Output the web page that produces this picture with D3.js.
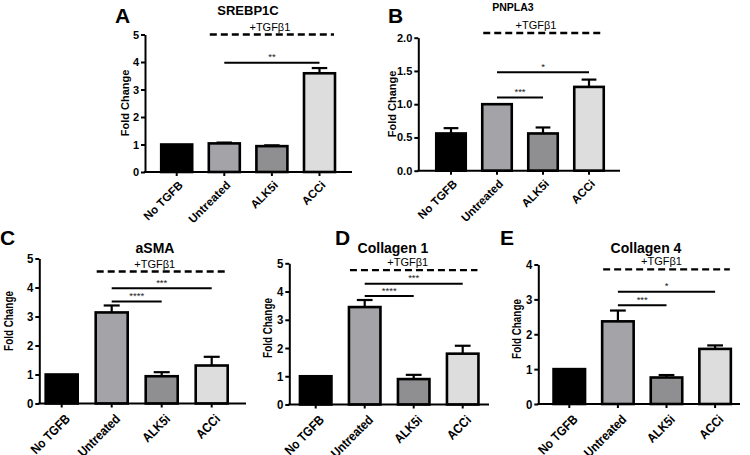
<!DOCTYPE html>
<html><head><meta charset="utf-8">
<script src="https://cdn.jsdelivr.net/npm/d3@7"></script>
<style>body{margin:0;background:#fff} svg{display:block}</style>
</head><body><svg id="c" width="750" height="455"></svg>
<script>
// ---------- data ----------
const categories = ["No TGFB", "Untreated", "ALK5i", "ACCi"];
const panelTitles = ["SREBP1C", "PNPLA3", "aSMA", "Collagen 1", "Collagen 4"];
const panelLetters = ["A", "B", "C", "D", "E"];
const treatmentLabel = "+TGFβ1";
const yAxisLabel = "Fold Change";

const srebp1cMean = [1.00, 1.04, 0.94, 3.59];
const srebp1cSem  = [0.00, 0.03, 0.03, 0.19];
const pnpla3Mean  = [0.56, 1.00, 0.56, 1.26];
const pnpla3Sem   = [0.08, 0.00, 0.09, 0.11];
const asmaMean    = [1.00, 3.14, 0.94, 1.31];
const asmaSem     = [0.00, 0.24, 0.14, 0.30];
const col1Mean    = [1.00, 3.45, 0.90, 1.80];
const col1Sem     = [0.00, 0.25, 0.15, 0.28];
const col4Mean    = [1.00, 2.37, 0.76, 1.58];
const col4Sem     = [0.00, 0.31, 0.07, 0.10];

const ticksA = [0, 1, 2, 3, 4, 5];
const ticksB = [0, 0.5, 1.0, 1.5, 2.0];
const ticksC = [0, 1, 2, 3, 4, 5];
const ticksD = [0, 1, 2, 3, 4, 5];
const ticksE = [0, 1, 2, 3, 4];

// significance brackets: [from category, to category, label, height (data units)]
const sigA = [[1, 3, "**", 3.97]];
const sigB = [[1, 2, "***", 1.10], [1, 3, "*", 1.48]];
const sigC = [[1, 2, "****", 3.52], [1, 3, "***", 3.97]];
const sigD = [[1, 2, "****", 3.84], [1, 3, "***", 4.28]];
const sigE = [[1, 2, "***", 2.83], [1, 3, "*", 3.22]];
// +TGFβ1 dashed line height (data units)
const tgfLevel = [5.0, 2.07, 4.55, 4.76, 3.86];

// ---------- styles / layout ----------
const barFills = ["#000000", "#a4a4a8", "#8f8f91", "#dddddd"];
const SANS = "'Liberation Sans', Arial, sans-serif";

const panels = [
  {mean: srebp1cMean, sem: srebp1cSem, ticks: ticksA, fmt: d3.format("d"), sig: sigA,
   axisX: 145, axisEnd: 352, yBase: 172, yTop: 34.5, c0: 176.7, step: 47.6, barW: 31,
   titleX: 248, titleY: 15, titleSize: 13, letterX: 115, letterY: 23,
   ylabX: 129, ylabY: 103, tgfDx: -2, fs: 11, catFs: 11.5, sqY: 1, sqT: 1, lblOff: [4, 11]},
  {mean: pnpla3Mean, sem: pnpla3Sem, ticks: ticksB, fmt: d3.format(".1f"), sig: sigB,
   axisX: 418.3, axisEnd: 620, yBase: 170.7, yTop: 37.7, c0: 451, step: 46, barW: 29.5,
   titleX: 513, titleY: 11, titleSize: 10.5, letterX: 388, letterY: 23,
   ylabX: 396, ylabY: 104, tgfDx: -7, fs: 11, catFs: 11.5, sqY: 1, sqT: 1, lblOff: [4, 11]},
  {mean: asmaMean, sem: asmaSem, ticks: ticksC, fmt: d3.format("d"), sig: sigC,
   axisX: 39.3, axisEnd: 246, yBase: 403.5, yTop: 258.5, c0: 61.7, step: 50, barW: 32,
   titleX: 155, titleY: 253, titleSize: 14, letterX: 0, letterY: 245,
   ylabX: 13, ylabY: 321, tgfDx: -7, fs: 13, catFs: 13, sqY: 0.76, sqT: 0.88, lblOff: [6, 13]},
  {mean: col1Mean, sem: col1Sem, ticks: ticksD, fmt: d3.format("d"), sig: sigD,
   axisX: 289.3, axisEnd: 489, yBase: 404.5, yTop: 263.3, c0: 315.7, step: 49, barW: 31.5,
   titleX: 393, titleY: 253, titleSize: 14, letterX: 335, letterY: 245,
   ylabX: 272, ylabY: 328, tgfDx: -6, fs: 13, catFs: 13, sqY: 0.76, sqT: 0.88, lblOff: [6, 13]},
  {mean: col4Mean, sem: col4Sem, ticks: ticksE, fmt: d3.format("d"), sig: sigE,
   axisX: 538.3, axisEnd: 740, yBase: 404, yTop: 264.5, c0: 569.3, step: 48.6, barW: 31.5,
   titleX: 646, titleY: 253, titleSize: 14, letterX: 500, letterY: 245,
   ylabX: 521, ylabY: 329, tgfDx: -5, fs: 13, catFs: 13, sqY: 0.76, sqT: 0.88, lblOff: [6, 13]}
];

const svg = d3.select("#c");

// horizontally condense a text (emulates the narrower face of the lower panels)
function squeeze(sel, k) {
  if (k === 1) return;
  sel.each(function () {
    const L = this.getComputedTextLength();
    d3.select(this).attr("textLength", L * k).attr("lengthAdjust", "spacingAndGlyphs");
  });
}

panels.forEach((p, pi) => {
  const g = svg.append("g").style("font-family", SANS);
  const n = categories.length;
  const pin = 1 - p.barW / p.step;
  const x = d3.scaleBand().domain(categories)
    .range([p.c0 - p.step / 2, p.c0 + p.step * (n - 0.5)])
    .paddingInner(pin).paddingOuter(pin / 2);
  const yMax = p.ticks[p.ticks.length - 1];
  const y = d3.scaleLinear().domain([0, yMax]).range([p.yBase, p.yTop]);
  const cx = c => x(c) + x.bandwidth() / 2;

  // bars
  g.selectAll("rect.bar").data(categories).join("rect")
    .attr("x", c => x(c)).attr("width", x.bandwidth())
    .attr("y", (c, i) => y(p.mean[i]))
    .attr("height", (c, i) => y(0) - y(p.mean[i]))
    .attr("fill", (c, i) => barFills[i])
    .attr("stroke", "#000").attr("stroke-width", 2.6);

  // error bars (upper only)
  const capW = x.bandwidth() * 0.5;
  categories.forEach((c, i) => {
    if (p.sem[i] <= 0) return;
    const yt = y(p.mean[i] + p.sem[i]);
    g.append("line").attr("x1", cx(c)).attr("x2", cx(c))
      .attr("y1", y(p.mean[i])).attr("y2", yt)
      .attr("stroke", "#000").attr("stroke-width", 2.2);
    g.append("line").attr("x1", cx(c) - capW / 2).attr("x2", cx(c) + capW / 2)
      .attr("y1", yt).attr("y2", yt)
      .attr("stroke", "#000").attr("stroke-width", 2.2);
  });

  // y axis
  const ya = g.append("g").attr("transform", `translate(${p.axisX},0)`)
    .call(d3.axisLeft(y).tickValues(p.ticks).tickFormat(p.fmt).tickSize(4).tickSizeOuter(0).tickPadding(2));
  ya.select(".domain").attr("stroke", "#000").attr("stroke-width", 2);
  ya.selectAll(".tick line").attr("stroke", "#000").attr("stroke-width", 2);
  const yt = ya.selectAll(".tick text").attr("fill", "#000").style("font-size", p.fs + "px")
    .style("font-weight", "bold").style("font-family", SANS);
  squeeze(yt, p.sqT);

  // x axis
  const xa = g.append("g").attr("transform", `translate(0,${p.yBase})`)
    .call(d3.axisBottom(x).tickSize(4).tickSizeOuter(0));
  xa.select(".domain").remove();
  xa.selectAll(".tick line").attr("stroke", "#000").attr("stroke-width", 2);
  const xt = xa.selectAll(".tick text").attr("fill", "#000")
    .style("font-size", p.catFs + "px").style("font-weight", "bold").style("font-family", SANS)
    .attr("text-anchor", "end").attr("y", 0).attr("dy", "0.35em")
    .attr("transform", `translate(${p.lblOff[0]},${p.lblOff[1]}) rotate(-45)`);
  squeeze(xt, p.sqT);
  g.append("line").attr("x1", p.axisX - 1).attr("x2", p.axisEnd)
    .attr("y1", p.yBase).attr("y2", p.yBase).attr("stroke", "#000").attr("stroke-width", 2);

  // significance brackets
  p.sig.forEach(([a, b, lab, h]) => {
    const x1 = cx(categories[a]), x2 = cx(categories[b]), yy = y(h);
    g.append("line").attr("x1", x1).attr("x2", x2).attr("y1", yy).attr("y2", yy)
      .attr("stroke", "#000").attr("stroke-width", 2);
    g.append("text").attr("x", (x1 + x2) / 2).attr("y", yy - 2.5)
      .attr("text-anchor", "middle").style("font-size", "9.5px").attr("fill", "#222")
      .text(lab);
  });

  // +TGFβ1 dashed line
  const dx1 = x(categories[1]) + 1, dx2 = x(categories[3]) + x.bandwidth() - 1, dy = y(tgfLevel[pi]);
  g.append("line").attr("x1", dx1).attr("x2", dx2).attr("y1", dy).attr("y2", dy)
    .attr("stroke", "#000").attr("stroke-width", 2.4).attr("stroke-dasharray", "7,4");
  g.append("text").attr("x", (dx1 + dx2) / 2 + p.tgfDx).attr("y", dy - 4)
    .attr("text-anchor", "middle").style("font-size", "11px").attr("fill", "#000")
    .text(treatmentLabel);

  // title
  g.append("text").attr("x", p.titleX).attr("y", p.titleY).attr("text-anchor", "middle")
    .style("font-size", p.titleSize + "px").style("font-weight", "bold")
    .text(panelTitles[pi]);
  // panel letter
  g.append("text").attr("x", p.letterX).attr("y", p.letterY)
    .style("font-size", "21px").style("font-weight", "bold")
    .text(panelLetters[pi]);
  // y label
  const yl = g.append("text").attr("transform", `translate(${p.ylabX},${p.ylabY}) rotate(-90)`)
    .attr("text-anchor", "middle").style("font-size", p.fs + "px").style("font-weight", "bold")
    .text(yAxisLabel);
  squeeze(yl, p.sqY);
});
</script></body></html>
